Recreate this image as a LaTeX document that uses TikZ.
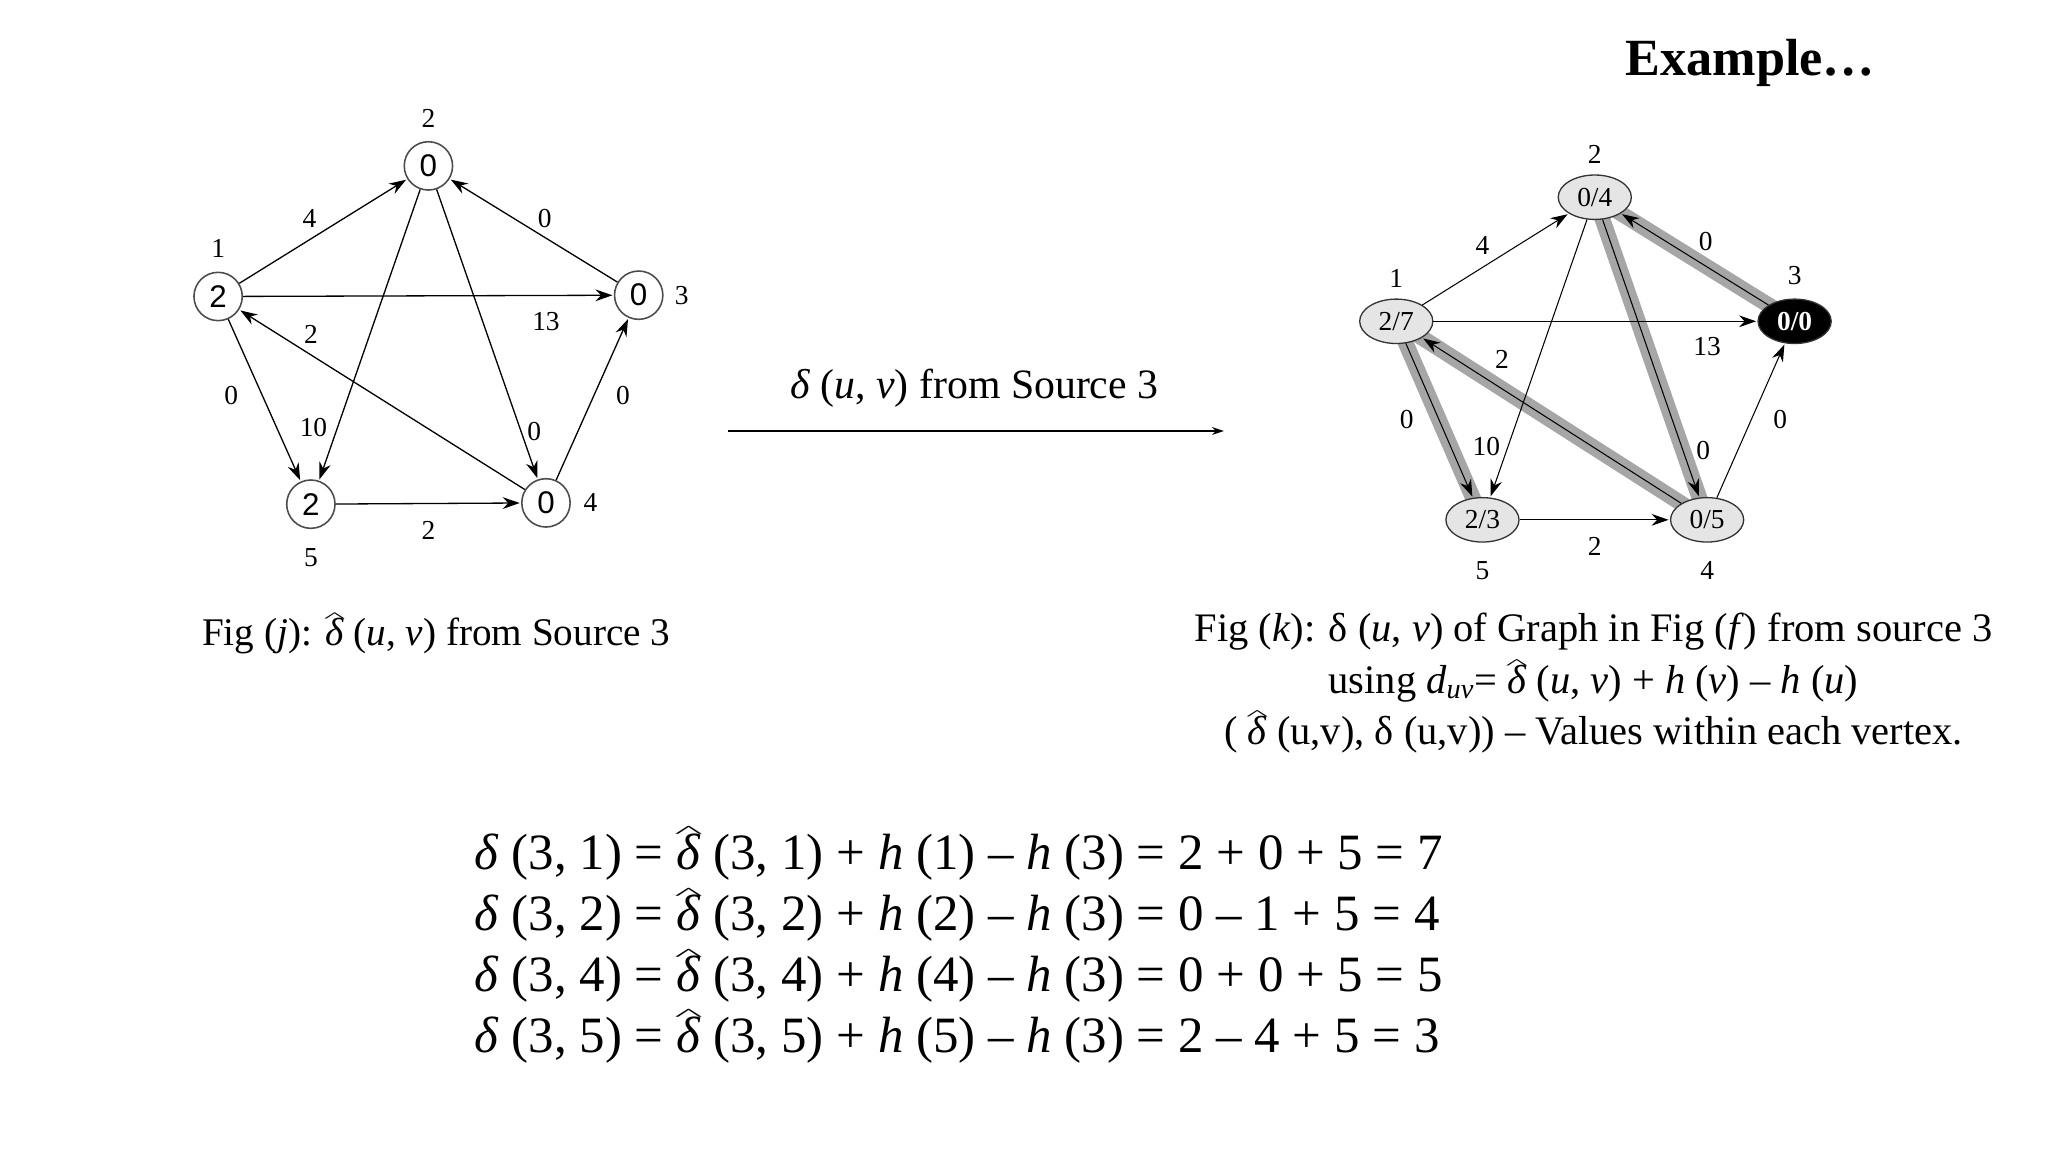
\documentclass[tikz,border=0pt]{standalone}
\usepackage{fontspec}
\usepackage{graphicx}
\setmainfont{Liberation Serif}
\setsansfont{Liberation Sans}
\usetikzlibrary{arrows.meta,shapes.geometric}
\newcommand{\dhat}{{\ooalign{\textit{δ}\cr\hidewidth\raisebox{0.62em}{\resizebox{0.55em}{0.22em}{\textasciicircum}}\hidewidth\cr}}}
\begin{document}
\begin{tikzpicture}[x=1pt,y=-1pt,
  cv/.style={circle,draw=black!70,line width=1.2pt,minimum size=37pt,inner sep=0pt,fill=white,font=\sffamily\fontsize{24}{24}\selectfont},
  ev/.style={ellipse,draw=black!80,line width=1pt,minimum width=56pt,minimum height=34pt,inner sep=0pt,fill=black!10,font=\fontsize{21}{21}\selectfont},
  lab/.style={font=\fontsize{21}{21}\selectfont},
  ed/.style={-{Stealth[length=13pt,width=9pt]},line width=1pt,shorten >=1pt},
  hl/.style={line width=12pt,draw=black!35},
  txt/.style={font=\fontsize{30}{39.5}\selectfont,align=center},
  eq/.style={font=\fontsize{39}{47}\selectfont,anchor=west}]
\useasboundingbox (0,0) rectangle (1568,882);
% left graph
\node[cv] (a2) at (328,127) {0};
\node[cv] (a1) at (167,227) {2};
\node[cv] (a3) at (489,226) {0};
\node[cv] (a5) at (238,386) {2};
\node[cv] (a4) at (418,385) {0};
\node[lab] (la2) at (328,91) {2};
\node[lab] (la1) at (167,190) {1};
\node[lab] (la3) at (522,226) {3};
\node[lab] (la5) at (238,427) {5};
\node[lab] (la4) at (452,385) {4};
\draw[ed] (a1) -- (a2);
\draw[ed] (a1) -- (a3);
\draw[ed] (a3) -- (a2);
\draw[ed] (a4) -- (a1);
\draw[ed] (a1) -- (a5);
\draw[ed] (a2) -- (a5);
\draw[ed] (a2) -- (a4);
\draw[ed] (a4) -- (a3);
\draw[ed] (a5) -- (a4);
\node[lab] (w1) at (237,167) {4};
\node[lab] (w2) at (417,167) {0};
\node[lab] (w3) at (418,246) {13};
\node[lab] (w4) at (238,256) {2};
\node[lab] (w5) at (177,303) {0};
\node[lab] (w6) at (240,327) {10};
\node[lab] (w7) at (409,330) {0};
\node[lab] (w8) at (477,303) {0};
\node[lab] (w9) at (328,406) {2};
% middle arrow
\coordinate (m1) at (557,330);
\coordinate (m2) at (937,330);
\draw[-{Stealth[length=9pt,width=6pt]},line width=0.8pt] (m1) -- (m2);
\node[txt,font=\fontsize{32}{32}\selectfont] (mt) at (746,297) {\textit{δ} (\textit{u}, \textit{v}) from Source 3};
% right graph
\coordinate (b2c) at (1221,151);
\coordinate (b1c) at (1069,246);
\coordinate (b3c) at (1374,246);
\coordinate (b5c) at (1135,398);
\coordinate (b4c) at (1307,398);
\draw[hl] (b3c) -- (b2c);
\draw[hl] (b2c) -- (b4c);
\draw[hl] (b4c) -- (b1c);
\draw[hl] (b1c) -- (b5c);
\node[ev] (b2) at (b2c) {0/4};
\node[ev] (b1) at (b1c) {2/7};
\node[ev,fill=black,text=white,font=\bfseries\fontsize{21}{21}\selectfont] (b3) at (b3c) {0/0};
\node[ev] (b5) at (b5c) {2/3};
\node[ev] (b4) at (b4c) {0/5};
\node[lab] (lb2) at (1221,118) {2};
\node[lab] (lb1) at (1069,213) {1};
\node[lab] (lb3) at (1374,211) {3};
\node[lab] (lb5) at (1135,437) {5};
\node[lab] (lb4) at (1307,437) {4};
\draw[ed,line width=0.8pt] (b1) -- (b2);
\draw[ed,line width=0.8pt] (b1) -- (b3);
\draw[ed,line width=0.8pt] (b3) -- (b2);
\draw[ed,line width=0.8pt] (b4) -- (b1);
\draw[ed,line width=0.8pt] (b1) -- (b5);
\draw[ed,line width=0.8pt] (b2) -- (b5);
\draw[ed,line width=0.8pt] (b2) -- (b4);
\draw[ed,line width=0.8pt] (b4) -- (b3);
\draw[ed,line width=0.8pt] (b5) -- (b4);
\node[lab] (v1) at (1135,188) {4};
\node[lab] (v2) at (1306,185) {0};
\node[lab] (v3) at (1307,265) {13};
\node[lab] (v4) at (1150,275) {2};
\node[lab] (v5) at (1077,321) {0};
\node[lab] (v6) at (1138,342) {10};
\node[lab] (v7) at (1304,345) {0};
\node[lab] (v8) at (1363,321) {0};
\node[lab] (v9) at (1221,418) {2};
% captions
\node[font=\bfseries\fontsize{40}{40}\selectfont] (ex) at (1340,48) {Example…};
\node[txt] (cj) at (334,487) {Fig (\textit{j}): \dhat\ (\textit{u}, \textit{v}) from Source 3};
\node[txt,anchor=north,font=\fontsize{31}{39.5}\selectfont] (ck) at (1220,466) {Fig (\textit{k}): δ (\textit{u}, \textit{v}) of Graph in Fig (\textit{f}) from source 3\\
using \textit{d}\textsubscript{\textit{uv}}= \dhat\ (\textit{u}, \textit{v}) + \textit{h} (\textit{v}) – \textit{h} (\textit{u})\\
( \dhat\ (u,v), δ (u,v)) – Values within each vertex.};
% equations
\node[eq] (e1) at (360,656) {\textit{δ} (3, 1) = \dhat\ (3, 1) + \textit{h} (1) – \textit{h} (3) = 2 + 0 + 5 = 7};
\node[eq] (e2) at (360,703) {\textit{δ} (3, 2) = \dhat\ (3, 2) + \textit{h} (2) – \textit{h} (3) = 0 – 1 + 5 = 4};
\node[eq] (e3) at (360,750) {\textit{δ} (3, 4) = \dhat\ (3, 4) + \textit{h} (4) – \textit{h} (3) = 0 + 0 + 5 = 5};
\node[eq] (e4) at (360,796) {\textit{δ} (3, 5) = \dhat\ (3, 5) + \textit{h} (5) – \textit{h} (3) = 2 – 4 + 5 = 3};
\end{tikzpicture}
\end{document}
